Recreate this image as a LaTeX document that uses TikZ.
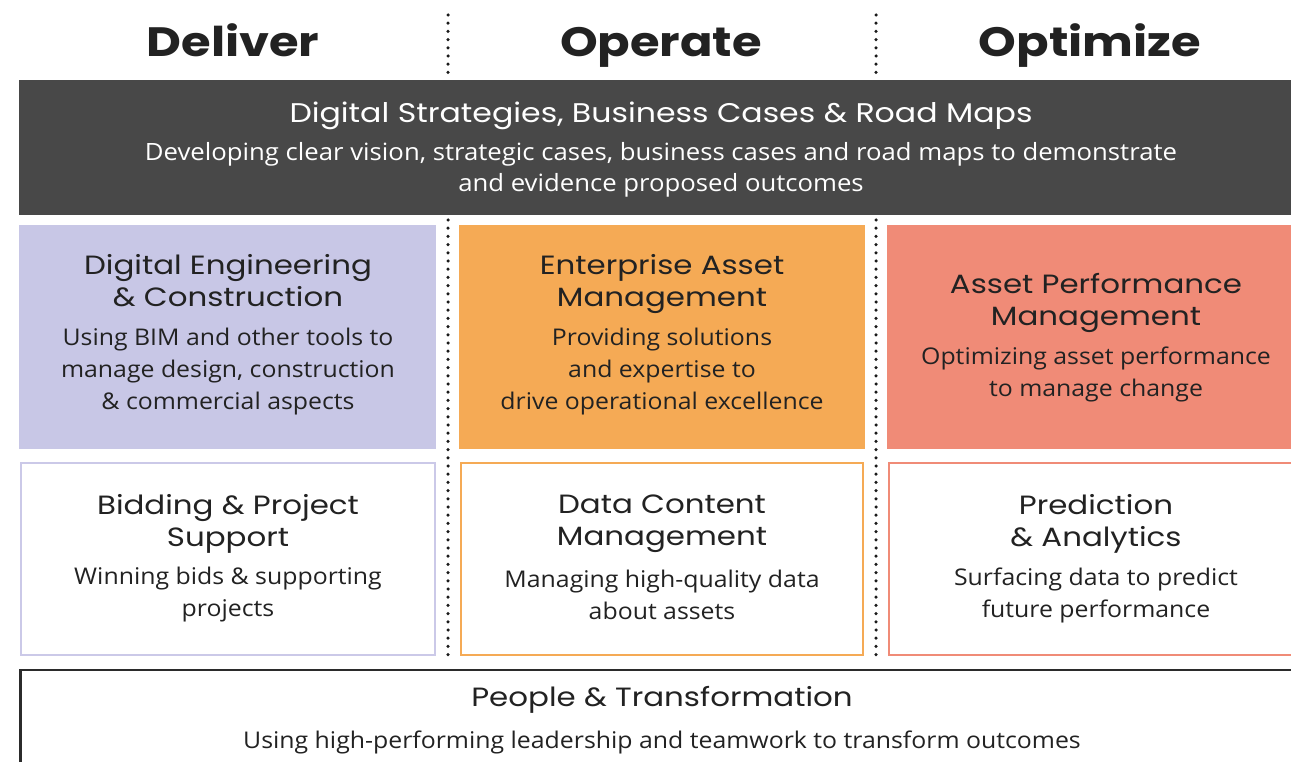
\documentclass[tikz,border=0pt]{standalone}
\usepackage{fontspec}
\setmainfont{Open Sans}[FakeStretch=1.08]
\newfontfamily\headfont{Poppins}[FakeStretch=1.17]
\definecolor{darkbg}{HTML}{484848}
\definecolor{lav}{HTML}{C8C7E6}
\definecolor{lavline}{HTML}{CBC9E8}
\definecolor{orng}{HTML}{F5AA55}
\definecolor{salmon}{HTML}{F08B77}
\definecolor{ink}{HTML}{222222}
\definecolor{dotc}{HTML}{1A1A1A}
\definecolor{frame}{HTML}{2B2B2B}
\tikzset{
  hdr/.style={font=\headfont\bfseries\fontsize{41}{44}\selectfont, text=ink, inner sep=0pt, anchor=base},
  ttl/.style={font=\headfont\fontsize{26.4}{32}\selectfont, text=ink, align=center, inner sep=0pt},
  dsc/.style={font=\fontsize{23}{32}\selectfont, text=ink, align=center, inner sep=0pt},
  fillbox/.style={draw=none, inner sep=0pt, outer sep=0pt, anchor=north west},
  linebox/.style={line width=2pt, inner sep=0pt, outer sep=0pt, anchor=north west, fill=white},
  dots/.style={line width=3.5pt, line cap=round, dash pattern=on 0pt off 8.2pt, draw=dotc}
}
\begin{document}
\begin{tikzpicture}[x=1pt,y=-1pt]
\useasboundingbox (0,0) rectangle (1291,762);
\fill[white] (0,0) rectangle (1291,762);
% headers
\node[hdr] (hdel) at (233,57) {Deliver};
\node[hdr] (hop) at (661,57) {Operate};
\node[hdr] (hopt) at (1090,57) {Optimize};
% dotted separators
\coordinate (a1) at (448,15); \coordinate (a2) at (448,77);
\coordinate (a3) at (448,220); \coordinate (a4) at (448,657);
\coordinate (b1) at (876,15); \coordinate (b2) at (876,77);
\coordinate (b3) at (876,220); \coordinate (b4) at (876,657);
\draw[dots] (a1) -- (a2); \draw[dots] (a3) -- (a4);
\draw[dots] (b1) -- (b2); \draw[dots] (b3) -- (b4);
% dark strategy box
\node[fillbox, fill=darkbg, minimum width=1272pt, minimum height=135pt] (dsb) at (19,80) {};
\node[ttl, text=white, font=\headfont\fontsize{27}{32}\selectfont] (dsbt) at (661,116) {Digital Strategies, Business Cases \& Road Maps};
\node[dsc, text=white, font=\fontsize{23.8}{31}\selectfont] (dsbd) at (661,170) {Developing clear vision, strategic cases, business cases and road maps to demonstrate\\and evidence proposed outcomes};
% row 1
\node[fillbox, fill=lav, minimum width=417pt, minimum height=224pt] (r1a) at (19,225) {};
\node[fillbox, fill=orng, minimum width=406pt, minimum height=224pt] (r1b) at (459,225) {};
\node[fillbox, fill=salmon, minimum width=404pt, minimum height=224pt] (r1c) at (887,225) {};
\node[ttl] (r1at) at (228,281) {Digital Engineering\\\& Construction};
\node[dsc] (r1ad) at (228,372) {Using BIM and other tools to\\manage design, construction\\\& commercial aspects};
\node[ttl] (r1bt) at (662,284) {Enterprise Asset\\Management};
\node[dsc] (r1bd) at (662,372) {Providing solutions\\and expertise to\\drive operational excellence};
\node[ttl] (r1ct) at (1096,303) {Asset Performance\\Management};
\node[dsc] (r1cd) at (1096,374) {Optimizing asset performance\\to manage change};
% row 2
\node[linebox, draw=lavline, minimum width=414pt, minimum height=192pt] (r2a) at (21,463) {};
\node[linebox, draw=orng, minimum width=402pt, minimum height=192pt] (r2b) at (461,463) {};
\node[linebox, draw=salmon, minimum width=410pt, minimum height=192pt] (r2c) at (889,463) {};
\node[ttl] (r2at) at (228,524) {Bidding \& Project\\Support};
\node[dsc] (r2ad) at (228,595) {Winning bids \& supporting\\projects};
\node[ttl] (r2bt) at (662,524) {Data Content\\Management};
\node[dsc] (r2bd) at (662,595) {Managing high-quality data\\about assets};
\node[ttl] (r2ct) at (1096,524) {Prediction\\\& Analytics};
\node[dsc] (r2cd) at (1096,595) {Surfacing data to predict\\future performance};
% bottom
\node[linebox, draw=frame, line width=2.5pt, minimum width=1280pt, minimum height=110pt] (pt) at (20.5,670) {};
\node[ttl] (ptt) at (662,700) {People \& Transformation};
\node[dsc] (ptd) at (662,742) {Using high-performing leadership and teamwork to transform outcomes};
\end{tikzpicture}
\end{document}
